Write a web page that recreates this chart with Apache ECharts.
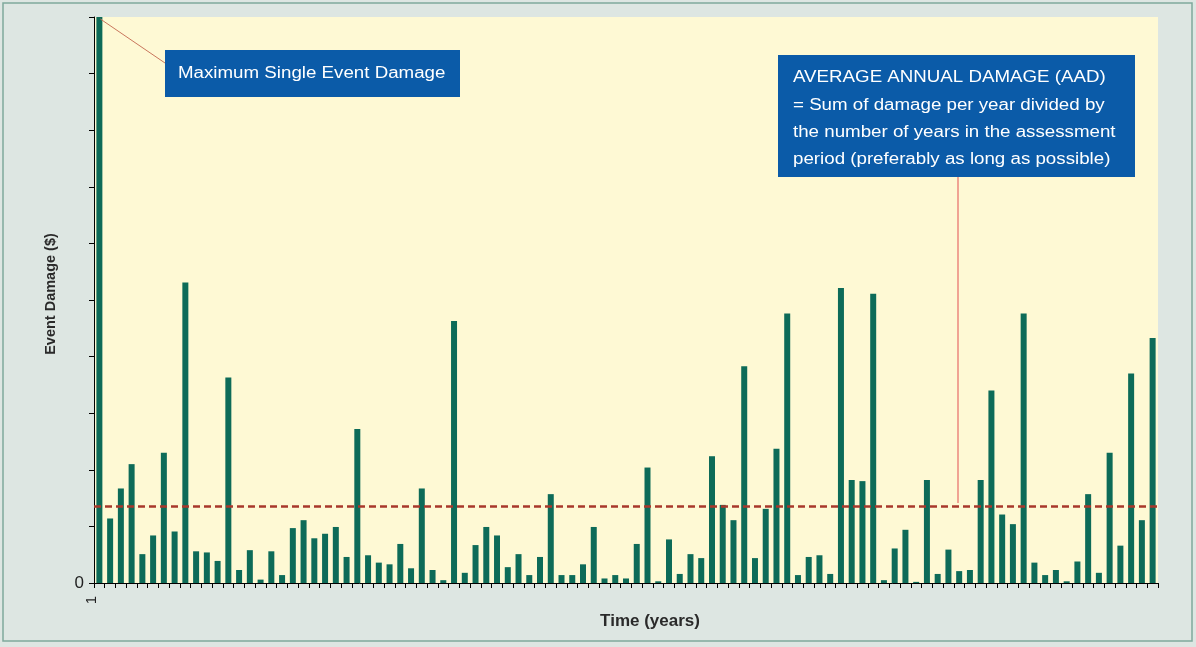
<!DOCTYPE html>
<html>
<head>
<meta charset="utf-8">
<script src="https://cdn.jsdelivr.net/npm/echarts@6/dist/echarts.min.js"></script>
<style>
  html, body { margin: 0; padding: 0; background: #dde6e2; }
  #chart { width: 1196px; height: 647px; }
</style>
</head>
<body>
<div id="chart"></div>
<script>
// ---- data ----
const years = [1,2,3,4,5,6,7,8,9,10,11,12,13,14,15,16,17,18,19,20,21,22,23,24,25,26,27,28,29,30,
  31,32,33,34,35,36,37,38,39,40,41,42,43,44,45,46,47,48,49,50,51,52,53,54,55,56,57,58,59,60,
  61,62,63,64,65,66,67,68,69,70,71,72,73,74,75,76,77,78,79,80,81,82,83,84,85,86,87,88,89,90,
  91,92,93,94,95,96,97,98,99];
const eventDamage = [10, 1.14, 1.67, 2.10, 0.51, 0.84, 2.30, 0.91, 5.31, 0.56,
  0.54, 0.39, 3.63, 0.23, 0.58, 0.06, 0.56, 0.14, 0.97, 1.11,
  0.79, 0.87, 0.99, 0.46, 2.72, 0.49, 0.36, 0.33, 0.69, 0.26,
  1.67, 0.23, 0.05, 4.63, 0.18, 0.67, 0.99, 0.84, 0.28, 0.51,
  0.14, 0.46, 1.57, 0.14, 0.14, 0.33, 0.99, 0.08, 0.14, 0.08,
  0.69, 2.04, 0.03, 0.77, 0.16, 0.51, 0.44, 2.24, 1.38, 1.11,
  3.83, 0.44, 1.31, 2.37, 4.76, 0.14, 0.46, 0.49, 0.16, 5.21,
  1.82, 1.80, 5.11, 0.05, 0.61, 0.94, 0.02, 1.82, 0.16, 0.59,
  0.21, 0.23, 1.82, 3.40, 1.21, 1.04, 4.76, 0.36, 0.14, 0.23,
  0.03, 0.38, 1.57, 0.18, 2.30, 0.66, 3.70, 1.11, 4.33];
const aad = 1.36;
const yMax = 10;
const xLabelsShown = ['1'];
const yLabelsShown = ['0'];
const maxNote = 'Maximum Single Event Damage';
const aadNote = ['AVERAGE ANNUAL DAMAGE (AAD)',
  '= Sum of damage per year divided by',
  'the number of years in the assessment',
  'period (preferably as long as possible)'];

const FONT = '"Liberation Sans", Arial, Helvetica, sans-serif';
const chart = echarts.init(document.getElementById('chart'), null, { renderer: 'canvas' });

const option = {
  animation: false,
  backgroundColor: '#dde6e2',
  textStyle: { fontFamily: FONT },
  grid: {
    left: 94, right: 38, top: 17, bottom: 64,
    show: true, backgroundColor: '#fef9d4', borderWidth: 0
  },
  xAxis: {
    type: 'category',
    data: years.map(String),
    boundaryGap: true,
    axisLine: { lineStyle: { color: '#000', width: 1 } },
    axisTick: { show: true, length: 5, lineStyle: { color: '#000' }, interval: 0 },
    axisLabel: {
      interval: 0, rotate: 90, fontSize: 15, color: '#222', fontFamily: FONT,
      margin: 13, verticalAlign: 'bottom',
      formatter: v => xLabelsShown.includes(v) ? v : ''
    },
    name: 'Time (years)',
    nameLocation: 'middle',
    nameGap: 30,
    nameTextStyle: { fontSize: 17, fontWeight: 'bold', color: '#2a2a2a', fontFamily: FONT, padding: [0, 0, 0, 48] }
  },
  yAxis: {
    type: 'value',
    min: 0, max: yMax, interval: 1,
    splitLine: { show: false },
    axisLine: { show: true, lineStyle: { color: '#000', width: 1 } },
    axisTick: { show: true, length: 5, inside: false, lineStyle: { color: '#000' } },
    axisLabel: {
      fontSize: 17, color: '#222', fontFamily: FONT, margin: 10,
      formatter: v => yLabelsShown.includes(String(v)) ? String(v) : ''
    },
    name: 'Event Damage ($)',
    nameLocation: 'middle',
    nameGap: 36,
    nameTextStyle: { fontSize: 14.5, fontWeight: 'bold', color: '#2a2a2a', fontFamily: FONT, padding: [0, 0, 0, 12] }
  },
  series: [{
    type: 'bar',
    data: eventDamage,
    barWidth: 6,
    itemStyle: { color: '#0d6b58' },
    markLine: {
      silent: true,
      symbol: ['none', 'none'],
      label: { show: false },
      lineStyle: { color: '#a8382b', width: 2.5, type: [7, 4] },
      data: [{ yAxis: aad }]
    }
  }]
};
chart.setOption(option);

// annotations, anchored to data points via the axes
const topPt = chart.convertToPixel({ gridIndex: 0 }, [0, yMax]);
const aadPt = chart.convertToPixel({ gridIndex: 0 }, [0, aad]);
const box1 = { x: 165, y: 50, w: 295, h: 47 };
const box2 = { x: 778, y: 55, w: 357, h: 122 };
const leadX = 958;

chart.setOption({
  graphic: [
    { type: 'rect', silent: true, shape: { x: 3, y: 3, width: 1189, height: 638 },
      style: { fill: 'none', stroke: '#7fa99c', lineWidth: 1.5 } },
    { type: 'line', silent: true, z: 10,
      shape: { x1: topPt[0] + 1, y1: topPt[1] + 2, x2: box1.x, y2: box1.y + 13 },
      style: { stroke: '#c9765c', lineWidth: 1 } },
    { type: 'rect', silent: true, z: 11,
      shape: { x: box1.x, y: box1.y, width: box1.w, height: box1.h },
      style: { fill: '#0b5ba8' } },
    { type: 'text', silent: true, z: 12, x: 178, y: 74, scaleX: 1.17,
      style: { text: maxNote, fill: '#ffffff', font: '16px ' + FONT, verticalAlign: 'middle' } },
    { type: 'line', silent: true, z: 10,
      shape: { x1: leadX, y1: box2.y + box2.h, x2: leadX, y2: aadPt[1] - 3 },
      style: { stroke: '#f0a493', lineWidth: 2 } },
    { type: 'rect', silent: true, z: 11,
      shape: { x: box2.x, y: box2.y, width: box2.w, height: box2.h },
      style: { fill: '#0b5ba8' } },
    ...aadNote.map((t, i) => ({
      type: 'text', silent: true, z: 12, x: 793, y: 78 + i * 27.3, scaleX: 1.17,
      style: { text: t, fill: '#ffffff', font: '16px ' + FONT, verticalAlign: 'middle' }
    }))
  ]
});
</script>
</body>
</html>
